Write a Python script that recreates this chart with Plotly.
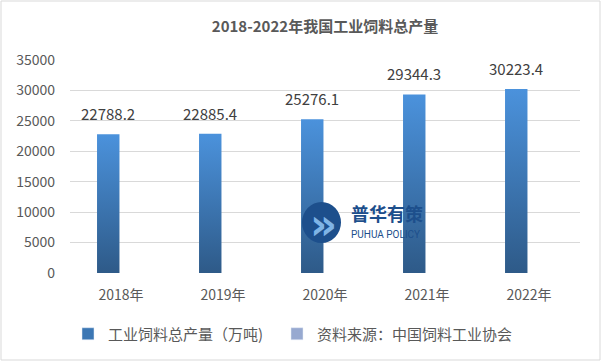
import plotly.graph_objects as go

years = ["2018年", "2019年", "2020年", "2021年", "2022年"]
output = [22788.2, 22885.4, 25276.1, 29344.3, 30223.4]
y_ticks = [0, 5000, 10000, 15000, 20000, 25000, 30000, 35000]

series_name = "工业饲料总产量（万吨)"
source_name = "资料来源：中国饲料工业协会"
title = "2018-2022年我国工业饲料总产量"

W, H = 601, 361
ML, MR, MT, MB = 70, 21, 60, 88
BAR_W = 0.22
BAR_OFF = -0.125
FONT = "Noto Sans CJK SC, Microsoft YaHei, sans-serif"
GRAY = "#595959"
TOP_C = "#4b92dc"
BOT_C = "#2e5a88"

fig = go.Figure()

for i, v in enumerate(output):
    xc = i + BAR_OFF
    fig.add_trace(go.Scatter(
        x=[xc - BAR_W / 2, xc + BAR_W / 2, xc + BAR_W / 2, xc - BAR_W / 2, xc - BAR_W / 2],
        y=[0, 0, v, v, 0],
        mode="none", fill="toself",
        fillgradient=dict(type="vertical", start=0, stop=v,
                          colorscale=[[0, BOT_C], [1, TOP_C]]),
        name=series_name, showlegend=False,
        hoverinfo="skip",
    ))

# legend entries
fig.add_trace(go.Bar(x=[None], y=[None], name=series_name,
                     marker=dict(color="#3c77b4"), showlegend=True, legend="legend"))
fig.add_trace(go.Bar(x=[None], y=[None], name=source_name,
                     marker=dict(color="#97a9d0"), showlegend=True, legend="legend2"))

for i, v in enumerate(output):
    fig.add_annotation(x=i + BAR_OFF, y=v, text=f"{v:.1f}", showarrow=False,
                       yanchor="bottom", yshift=8,
                       font=dict(family=FONT, size=15, color="#404040"))

pw, ph = W - ML - MR, H - MT - MB

# watermark logo
fig.add_shape(type="circle", xref="paper", yref="paper",
              x0=(302 - ML) / pw, x1=(341 - ML) / pw,
              y0=(H - MB - 243) / ph, y1=(H - MB - 202) / ph,
              fillcolor="#1d4f8c", line=dict(width=0), layer="above")
fig.add_annotation(xref="paper", yref="paper",
                   x=(323 - ML) / pw, y=(H - MB - 224) / ph,
                   xanchor="center", yanchor="middle",
                   text="<b>»</b>", showarrow=False,
                   font=dict(family="DejaVu Sans", size=42, color="#7fb4e6"))
fig.add_annotation(xref="paper", yref="paper",
                   x=(349 - ML) / pw, y=(H - MB - 213) / ph,
                   xanchor="left", yanchor="middle", text="<b>普华有策</b>", showarrow=False,
                   font=dict(family=FONT, size=18, color="#1d4f8c"))
fig.add_annotation(xref="paper", yref="paper",
                   x=(349 - ML) / pw, y=(H - MB - 234) / ph,
                   xanchor="left", yanchor="middle", text="PUHUA POLICY", showarrow=False,
                   font=dict(family="Roboto", size=10, color="#1d4f8c"))

# outer border
fig.add_shape(type="rect", xref="paper", yref="paper",
              x0=(1 - ML) / pw, x1=(W - 1 - ML) / pw,
              y0=-(MB - 1) / ph, y1=1 + (MT - 1) / ph,
              line=dict(color="#d9d9d9", width=1), fillcolor="rgba(0,0,0,0)")

legend_common = dict(orientation="h", xanchor="left",
                     y=-(334 - (H - MB)) / ph, yanchor="middle",
                     font=dict(family=FONT, size=15, color=GRAY),
                     traceorder="normal", itemwidth=30,
                     bgcolor="rgba(0,0,0,0)")

fig.update_layout(
    width=W, height=H,
    margin=dict(l=ML, r=MR, t=MT, b=MB, autoexpand=False),
    paper_bgcolor="white", plot_bgcolor="white",
    title=dict(text=f"<b>{title}</b>", x=0.5, xanchor="center", xref="paper",
               y=1 - 27 / H, yanchor="middle",
               font=dict(family=FONT, size=15, color=GRAY)),
    font=dict(family=FONT, size=14, color=GRAY),
    showlegend=True,
    legend=dict(x=(68 - ML) / pw, **legend_common),
    legend2=dict(x=(277 - ML) / pw, **legend_common),
    barmode="overlay",
)
fig.update_xaxes(type="linear", range=[-0.5, 4.5], tickvals=list(range(len(years))),
                 ticktext=years, showgrid=False, zeroline=False, showline=False,
                 ticks="", ticklabelstandoff=12, tickfont=dict(size=14, color=GRAY))
fig.update_yaxes(type="linear", range=[0, 35000], tickvals=y_ticks,
                 ticktext=[str(t) for t in y_ticks], showgrid=True,
                 gridcolor="#d9d9d9", gridwidth=1, zeroline=False, showline=False,
                 ticks="", ticklabelstandoff=14, tickfont=dict(size=14, color=GRAY))

fig.write_html("out.html", config={"displayModeBar": False},
               post_script="document.body.style.margin='0';document.body.style.overflow='hidden';")
